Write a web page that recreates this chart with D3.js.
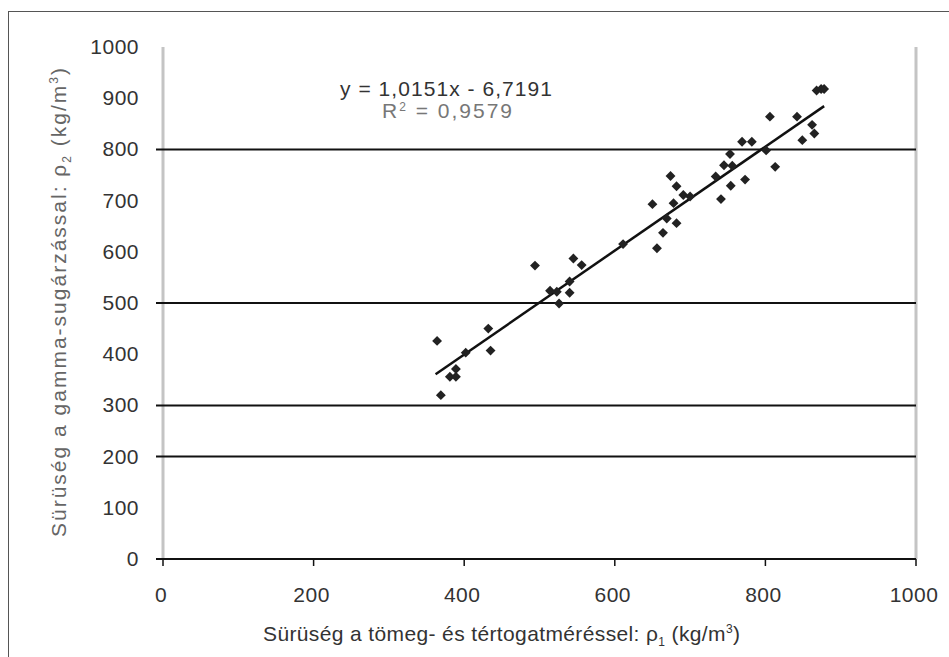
<!DOCTYPE html>
<html>
<head>
<meta charset="utf-8">
<script src="https://cdn.jsdelivr.net/npm/d3@7"></script>
<style>
  body { margin: 0; background: #fff; }
  text { font-family: "Liberation Sans", Arial, sans-serif; }
</style>
</head>
<body>
<script>
const w = 949;
const h = 657;

// measured densities (kg/m3)
const rho1 = [364, 369, 381, 389, 389, 402, 432, 435, 494, 514, 523, 526, 540, 540, 545, 556,
              611, 650, 656, 664, 669, 674, 678, 682, 682, 691, 700, 734, 741, 745, 753, 754,
              756, 769, 773, 782, 801, 806, 813, 842, 849, 862, 865, 868, 874, 878];
const rho2 = [426, 320, 356, 356, 371, 403, 450, 407, 573, 524, 522, 499, 520, 542, 587, 574,
              615, 693, 607, 637, 665, 748, 695, 656, 728, 711, 708, 747, 703, 769, 791, 729,
              768, 815, 741, 815, 798, 864, 766, 864, 818, 848, 831, 915, 918, 918];

const xTicks = [0, 200, 400, 600, 800, 1000];
const yTicks = [0, 100, 200, 300, 400, 500, 600, 700, 800, 900, 1000];
const gridVals = [0, 200, 300, 500, 800];

const slope = 1.0151;
const intercept = -6.7191;
const trendRange = [362, 878];

const svg = d3.select("body")
              .append("svg")
              .attr("width", w)
              .attr("height", h);

// outer chart border (right/bottom edges fall off the page)
svg.append("rect")
   .attr("x", 8.5).attr("y", 11.5)
   .attr("width", 980).attr("height", 700)
   .attr("fill", "none")
   .attr("stroke", "#555");

const x = d3.scaleLinear().domain([0, 1000]).range([163, 916]);
const y = d3.scaleLinear().domain([0, 1000]).range([559, 47]);

// side frame lines
svg.selectAll(".vline")
   .data([0, 1000])
   .enter()
   .append("line")
   .attr("x1", d => x(d)).attr("x2", d => x(d))
   .attr("y1", y(1000)).attr("y2", y(0))
   .attr("stroke", "#c4c4c4")
   .attr("stroke-width", 3);

// horizontal grid
svg.selectAll(".grid")
   .data(gridVals)
   .enter()
   .append("line")
   .attr("x1", x(0) - 7).attr("x2", x(1000))
   .attr("y1", d => y(d)).attr("y2", d => y(d))
   .attr("stroke", "#111")
   .attr("stroke-width", 2);

// x ticks
svg.selectAll(".xtick")
   .data(xTicks)
   .enter()
   .append("line")
   .attr("x1", d => x(d)).attr("x2", d => x(d))
   .attr("y1", y(0)).attr("y2", y(0) + 7)
   .attr("stroke", "#111")
   .attr("stroke-width", 1.5);

svg.selectAll(".xlab")
   .data(xTicks)
   .enter()
   .append("text")
   .attr("x", d => x(d) - 2)
   .attr("y", y(0) + 43)
   .attr("text-anchor", "middle")
   .attr("font-size", 21)
   .attr("letter-spacing", 0.5)
   .attr("fill", "#333")
   .text(d => d);

svg.selectAll(".ylab")
   .data(yTicks)
   .enter()
   .append("text")
   .attr("x", 139)
   .attr("y", d => y(d) + 7)
   .attr("text-anchor", "end")
   .attr("font-size", 21)
   .attr("letter-spacing", 0.5)
   .attr("fill", "#333")
   .text(d => d);

// trend line
svg.append("line")
   .attr("x1", x(trendRange[0])).attr("y1", y(slope * trendRange[0] + intercept))
   .attr("x2", x(trendRange[1])).attr("y2", y(slope * trendRange[1] + intercept))
   .attr("stroke", "#111")
   .attr("stroke-width", 2.5);

// points
const marker = d3.symbol().type(d3.symbolDiamond2).size(62);
svg.append("g")
   .selectAll("path")
   .data(rho1.map((v, i) => [v, rho2[i]]))
   .enter()
   .append("path")
   .attr("d", marker)
   .attr("transform", d => "translate(" + x(d[0]) + "," + y(d[1]) + ")")
   .attr("fill", "#222");

// equation
svg.append("text")
   .attr("x", 340).attr("y", 96)
   .attr("textLength", 212)
   .attr("lengthAdjust", "spacing")
   .attr("font-size", 21)
   .attr("fill", "#333")
   .text("y = 1,0151x - 6,7191");

const r2 = svg.append("text")
   .attr("x", 382).attr("y", 118)
   .attr("textLength", 130)
   .attr("lengthAdjust", "spacing")
   .attr("font-size", 21)
   .attr("fill", "#777");
r2.append("tspan").text("R");
r2.append("tspan").attr("dy", -7).attr("font-size", 12).text("2");
r2.append("tspan").attr("dy", 7).text(" = 0,9579");

// axis titles
const xt = svg.append("text")
   .attr("x", 263).attr("y", 641)
   .attr("textLength", 477)
   .attr("lengthAdjust", "spacing")
   .attr("font-size", 21)
   .attr("fill", "#333");
xt.append("tspan").text("Sürüség a tömeg- és tértogatméréssel: ρ");
xt.append("tspan").attr("dy", 5).attr("font-size", 12).text("1");
xt.append("tspan").attr("dy", -5).text(" (kg/m");
xt.append("tspan").attr("dy", -8).attr("font-size", 12).text("3");
xt.append("tspan").attr("dy", 8).text(")");

const yt = svg.append("text")
   .attr("transform", "translate(66,537) rotate(-90)")
   .attr("textLength", 469)
   .attr("lengthAdjust", "spacing")
   .attr("font-size", 21)
   .attr("fill", "#666");
yt.append("tspan").text("Sürüség a gamma-sugárzással: ρ");
yt.append("tspan").attr("dy", 5).attr("font-size", 12).text("2");
yt.append("tspan").attr("dy", -5).text(" (kg/m");
yt.append("tspan").attr("dy", -8).attr("font-size", 12).text("3");
yt.append("tspan").attr("dy", 8).text(")");
</script>
</body>
</html>
